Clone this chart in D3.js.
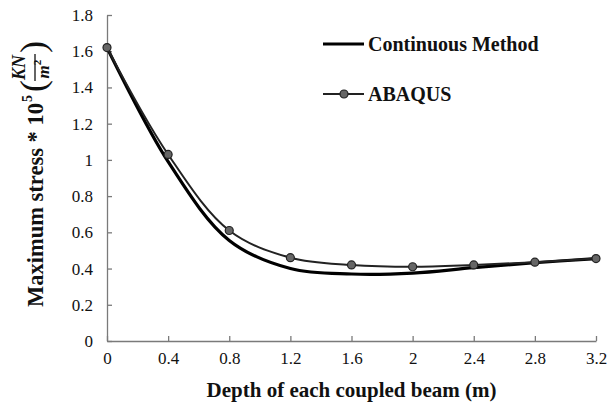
<!DOCTYPE html>
<html>
<head>
<meta charset="utf-8">
<script src="https://cdn.jsdelivr.net/npm/d3@7"></script>
<style>
  body { margin: 0; background: #fff; }
  svg text { font-family: "Liberation Serif", "Times New Roman", serif; fill: #111; }
</style>
</head>
<body>
<svg id="chart" width="609" height="407"></svg>
<script>
// depth of coupled beam (m)
const depths = [0, 0.4, 0.8, 1.2, 1.6, 2.0, 2.4, 2.8, 3.2];
// max stress * 10^5
const continuousMethod = [1.62, 0.99, 0.555, 0.40, 0.37, 0.375, 0.405, 0.432, 0.455];
const abaqus = [1.62, 1.03, 0.61, 0.46, 0.42, 0.41, 0.42, 0.435, 0.455];
const xTicks = [0, 0.4, 0.8, 1.2, 1.6, 2, 2.4, 2.8, 3.2];
const yTicks = [0, 0.2, 0.4, 0.6, 0.8, 1, 1.2, 1.4, 1.6, 1.8];

const svg = d3.select('#chart');

const x = d3.scaleLinear().domain([0, 3.2]).range([107, 596]);
const y = d3.scaleLinear().domain([0, 1.8]).range([341, 15]);

// axes, ticks pointing inside
const xAxis = svg.append('g')
  .attr('transform', 'translate(0,' + y(0) + ')')
  .call(d3.axisBottom(x).tickValues(xTicks).tickFormat(d3.format('')).tickSizeInner(-5).tickSizeOuter(0).tickPadding(14));
const yAxis = svg.append('g')
  .attr('transform', 'translate(' + x(0) + ',0)')
  .call(d3.axisLeft(y).tickValues(yTicks).tickFormat(d3.format('')).tickSizeInner(-5).tickSizeOuter(0).tickPadding(14));

[xAxis, yAxis].forEach(g => {
  g.attr('font-family', null).attr('font-size', null);
  g.select('.domain').attr('stroke', '#7a7a7a').attr('stroke-width', 1.3);
  g.selectAll('.tick line').attr('stroke', '#7a7a7a').attr('stroke-width', 1.3);
  g.selectAll('.tick text').attr('font-size', 17).attr('fill', '#111');
});
xAxis.selectAll('.tick text').attr('dy', '0.5em');

const cont = depths.map((d, i) => ({ x: d, y: continuousMethod[i] }));
const aba = depths.map((d, i) => ({ x: d, y: abaqus[i] }));

const line = d3.line()
  .x(d => x(d.x))
  .y(d => y(d.y))
  .curve(d3.curveCatmullRom.alpha(0.5));

svg.append('path')
  .datum(cont)
  .attr('fill', 'none')
  .attr('stroke', '#000')
  .attr('stroke-width', 3.2)
  .attr('d', line);

svg.append('path')
  .datum(aba)
  .attr('fill', 'none')
  .attr('stroke', '#222')
  .attr('stroke-width', 2)
  .attr('d', line);

svg.selectAll('.pt')
  .data(aba)
  .join('circle')
  .attr('class', 'pt')
  .attr('cx', d => x(d.x))
  .attr('cy', d => y(d.y))
  .attr('r', 4)
  .attr('fill', '#666')
  .attr('stroke', '#222')
  .attr('stroke-width', 1.2);

// legend
const leg = svg.append('g');
leg.append('line').attr('x1', 323).attr('x2', 364).attr('y1', 44).attr('y2', 44)
  .attr('stroke', '#000').attr('stroke-width', 3.2);
leg.append('text').attr('x', 368).attr('y', 51).attr('font-size', 20).attr('font-weight', 'bold')
  .text('Continuous Method');
leg.append('line').attr('x1', 323).attr('x2', 364).attr('y1', 94).attr('y2', 94)
  .attr('stroke', '#222').attr('stroke-width', 2);
leg.append('circle').attr('cx', 344).attr('cy', 94).attr('r', 4)
  .attr('fill', '#666').attr('stroke', '#222').attr('stroke-width', 1.2);
leg.append('text').attr('x', 368).attr('y', 101).attr('font-size', 20).attr('font-weight', 'bold')
  .text('ABAQUS');

// x axis title
svg.append('text')
  .attr('x', (x(0) + x(3.2)) / 2)
  .attr('y', 397)
  .attr('text-anchor', 'middle')
  .attr('font-size', 21)
  .attr('font-weight', 'bold')
  .text('Depth of each coupled beam (m)');

// y axis title: Maximum stress * 10^5 (KN / m^2)
const yt = svg.append('g').attr('transform', 'translate(43,307) rotate(-90)');
const main = yt.append('text')
  .attr('x', 0).attr('y', 0)
  .attr('font-size', 22.5)
  .attr('font-weight', 'bold')
  .text('Maximum stress * 10');
const mw = main.node().getComputedTextLength();
yt.append('text')
  .attr('x', mw + 1).attr('y', -11)
  .attr('font-size', 14)
  .attr('font-weight', 'bold')
  .text('5');
const fx = mw + 11;
yt.append('text')
  .attr('x', fx).attr('y', 2)
  .attr('font-size', 36)
  .text('(');
const fracL = fx + 11;
yt.append('line')
  .attr('x1', fracL).attr('x2', fracL + 27)
  .attr('y1', -8).attr('y2', -8)
  .attr('stroke', '#111').attr('stroke-width', 1.3);
yt.append('text')
  .attr('x', fracL + 13.5).attr('y', -18)
  .attr('text-anchor', 'middle')
  .attr('font-size', 18)
  .attr('font-style', 'italic')
  .attr('font-weight', 'bold')
  .text('KN');
const mt = yt.append('text')
  .attr('x', fracL + 12).attr('y', 6)
  .attr('text-anchor', 'middle')
  .attr('font-size', 17)
  .attr('font-style', 'italic')
  .attr('font-weight', 'bold');
mt.append('tspan').text('m');
mt.append('tspan').attr('font-size', 11).attr('dy', -8).attr('font-style', 'normal').text('2');
yt.append('text')
  .attr('x', fracL + 28).attr('y', 2)
  .attr('font-size', 36)
  .text(')');
</script>
</body>
</html>
